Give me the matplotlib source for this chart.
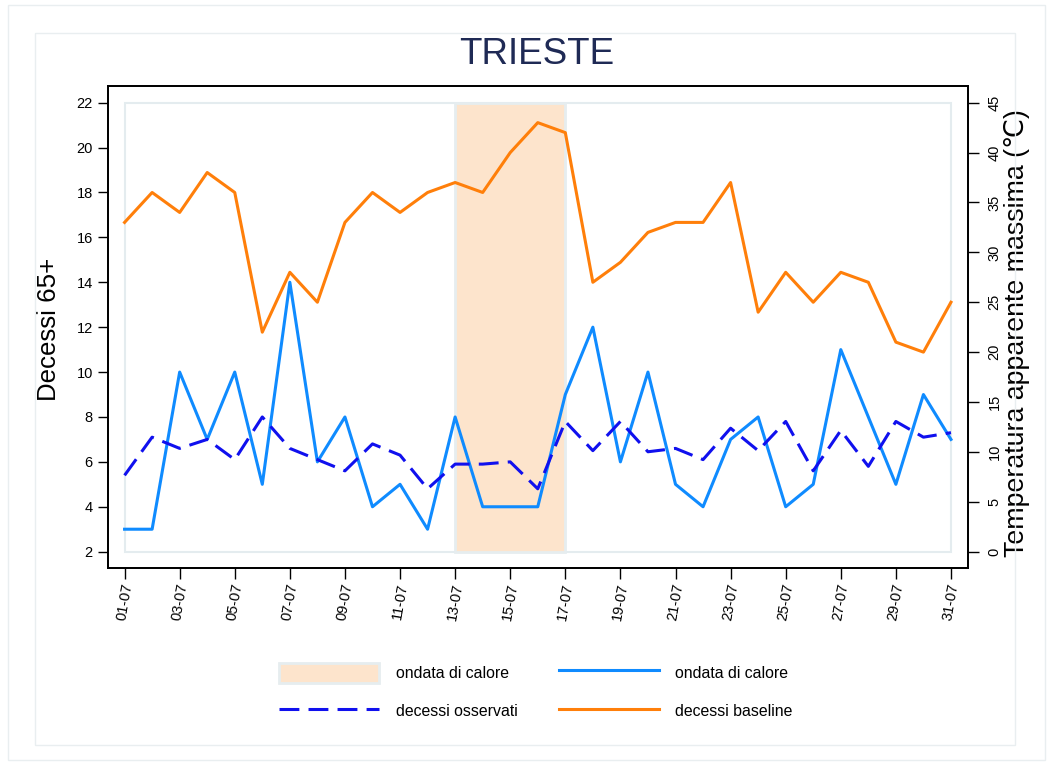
import numpy as np
import matplotlib.pyplot as plt
from matplotlib.patches import Rectangle

plt.rcParams['font.family'] = ['Liberation Sans', 'DejaVu Sans']

# dati (luglio)
giorni = np.arange(1, 32)
etichette = [f'{d:02d}-07' for d in giorni]
ondata_inizio, ondata_fine = 13, 17

# asse sinistro (decessi)
linea_azzurra = [3, 3, 10, 7, 10, 5, 14, 6, 8, 4, 5, 3, 8, 4, 4, 4,
                 9, 12, 6, 10, 5, 4, 7, 8, 4, 5, 11, 8, 5, 9, 7]
linea_tratteggiata = [5.4, 7.1, 6.6, 7.0, 6.1, 8.0, 6.6, 6.1, 5.6, 6.8, 6.3,
                      4.8, 5.9, 5.9, 6.0, 4.8, 7.8, 6.5, 7.8, 6.45, 6.6, 6.1,
                      7.5, 6.5, 7.8, 5.6, 7.4, 5.8, 7.8, 7.1, 7.3]
# asse destro (temperatura)
linea_arancione = [33, 36, 34, 38, 36, 22, 28, 25, 33, 36, 34, 36, 37, 36, 40,
                   43, 42, 27, 29, 32, 33, 33, 37, 24, 28, 25, 28, 27, 21, 20, 25]

tick_sx = list(range(2, 23, 2))
tick_dx = list(range(0, 46, 5))

fig = plt.figure(figsize=(10.52, 7.67), dpi=100)
fig.patches.append(Rectangle((0.0076, 0.009), 0.9857, 0.9845, transform=fig.transFigure,
                             fill=False, edgecolor='#e9eef0', lw=1))
fig.patches.append(Rectangle((0.0333, 0.0287), 0.9315, 0.9283, transform=fig.transFigure,
                             fill=False, edgecolor='#e9eef0', lw=1))

ax = fig.add_axes([0.1027, 0.2595, 0.8175, 0.6284])
ax2 = ax.twinx()

# riquadro interno e ondata di calore
ax.add_patch(Rectangle((giorni[0], tick_sx[0]), giorni[-1] - giorni[0], tick_sx[-1] - tick_sx[0],
                       fill=False, edgecolor='#e4ecef', lw=1.5))
ondata = Rectangle((ondata_inizio, tick_sx[0]), ondata_fine - ondata_inizio, tick_sx[-1] - tick_sx[0],
                   facecolor='#fde4cc', edgecolor='#e6edef', lw=2, label='ondata di calore')
ax.add_patch(ondata)

l_azz, = ax.plot(giorni, linea_azzurra, color='#0f8bff', lw=2.2, label='ondata di calore')
l_tr, = ax.plot(giorni, linea_tratteggiata, color='#1010ee', lw=2.2, dashes=(6.5, 3),
                label='decessi osservati')
l_ar, = ax2.plot(giorni, linea_arancione, color='#ff7f0a', lw=2.2, label='decessi baseline')

ax.set_xlim(0.40, 31.62)
ax.set_ylim(1.274, 22.744)
ax2.set_ylim((1.274 - 2) * 2.25, (22.744 - 2) * 2.25)

ax.set_yticks(tick_sx)
ax2.set_yticks(tick_dx)
ax.set_xticks(giorni[::2])
ax.set_xticklabels(etichette[::2])

ax.tick_params(axis='y', length=7, width=1, pad=4, labelsize=10.5)
ax.tick_params(axis='x', length=8, width=1, pad=2, labelsize=10.5, labelrotation=80)
ax2.tick_params(axis='y', length=8, width=1, pad=6, labelsize=10.5, labelrotation=90)
for t in ax2.get_yticklabels():
    t.set_va('center')

for a in (ax, ax2):
    for s in a.spines.values():
        s.set_linewidth(1.3)
        s.set_color('black')

ax.set_ylabel('Decessi 65+', fontsize=18.6)
ax.yaxis.set_label_coords(-0.055, 0.496)
ax2.set_ylabel('Temperatura apparente massima (℃)', fontsize=19.3)
ax2.yaxis.set_label_coords(1.042, 0.488)

fig.text(0.51, 0.9295, 'TRIESTE', ha='center', va='center', fontsize=26.5, color='#1f2a55')

fig.legend([ondata, l_tr, l_azz, l_ar],
           ['ondata di calore', 'decessi osservati', 'ondata di calore', 'decessi baseline'],
           loc='center', bbox_to_anchor=(0.5095, 0.0978), ncol=2, frameon=False,
           fontsize=11.4, handlelength=6.3, handleheight=1.6, handletextpad=1.05,
           columnspacing=2.6, labelspacing=1.14)

fig.savefig('out.png', dpi=100)
